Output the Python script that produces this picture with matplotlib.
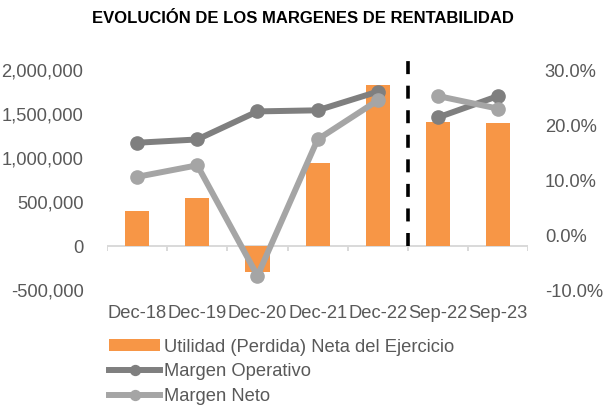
import numpy as np
import matplotlib.pyplot as plt
from matplotlib.ticker import FuncFormatter

plt.rcParams['font.family'] = ['Liberation Sans', 'DejaVu Sans']

periodos = ['Dec-18', 'Dec-19', 'Dec-20', 'Dec-21', 'Dec-22', 'Sep-22', 'Sep-23']
utilidad = [398000, 545000, -292000, 947000, 1830000, 1413000, 1394000]
margen_operativo = [16.8, 17.4, 22.5, 22.7, 26.1, 21.4, 25.3]
margen_neto = [10.6, 12.7, -7.4, 17.4, 24.5, 25.3, 23.0]

naranja = '#F79646'
gris_osc = '#7F7F7F'
gris_cla = '#A5A5A5'
txt = '#595959'
fs = 13.2

fig = plt.figure(figsize=(6.05, 4.08), dpi=100)
ax = fig.add_axes([0.177, 0.289, 0.696, 0.539])
ax2 = ax.twinx()

x = np.arange(len(periodos))
b = ax.bar(x, utilidad, width=0.4, color=naranja, zorder=2,
           label='Utilidad (Perdida) Neta del Ejercicio')
ax.set_xlim(-0.5, len(periodos) - 0.5)
ax.set_ylim(-500000, 2000000)
ax.set_yticks(np.arange(-500000, 2000001, 500000))
ax.yaxis.set_major_formatter(FuncFormatter(lambda v, p: f'{v:,.0f}'))

# eje cero con marcas entre categorias
ax.axhline(0, color='#D9D9D9', lw=1.4, zorder=1)
bordes = np.arange(len(periodos) + 1) - 0.5
ax.vlines(bordes, -60000, 0, color='#D9D9D9', lw=1.4, zorder=1)

# separador entre anuales y parciales
ax.vlines(4.5, 0, 2120000, color='black', lw=2.6, linestyles=(0, (3.6, 3.2)),
          clip_on=False, zorder=3)

# anuales y parciales van en tramos separados
n = 5
l1, = ax2.plot(x[:n], margen_operativo[:n], color=gris_osc, lw=4.3, marker='o',
               ms=9.5, label='Margen Operativo')
ax2.plot(x[n:], margen_operativo[n:], color=gris_osc, lw=4.3, marker='o', ms=9.5)
l2, = ax2.plot(x[:n], margen_neto[:n], color=gris_cla, lw=4.3, marker='o',
               ms=9.5, label='Margen Neto')
ax2.plot(x[n:], margen_neto[n:], color=gris_cla, lw=4.3, marker='o', ms=9.5)
ax2.set_ylim(-10, 30)
ax2.set_yticks(np.arange(-10, 31, 10))
ax2.yaxis.set_major_formatter(FuncFormatter(lambda v, p: f'{v:.1f}%'))

ax.set_xticks(x)
ax.set_xticklabels(periodos)
for a in (ax, ax2):
    for s in a.spines.values():
        s.set_visible(False)
    a.tick_params(length=0, labelsize=fs, labelcolor=txt)
ax.tick_params(axis='y', pad=17)
ax2.tick_params(axis='y', pad=12)
ax.tick_params(axis='x', pad=11)

fig.text(0.5, 0.955, 'EVOLUCIÓN DE LOS MARGENES DE RENTABILIDAD', ha='center',
         va='center', fontsize=12, fontweight='bold', color='black')

leg = fig.legend([b, l1, l2], [b.get_label(), l1.get_label(), l2.get_label()],
                 loc='upper left', bbox_to_anchor=(0.18, 0.17), frameon=False,
                 fontsize=fs, labelcolor=txt, handlelength=2.8, handletextpad=0.2,
                 handleheight=0.6, labelspacing=0.42, borderpad=0,
                 borderaxespad=0, markerscale=0.75)

fig.savefig('out.png', dpi=100)
